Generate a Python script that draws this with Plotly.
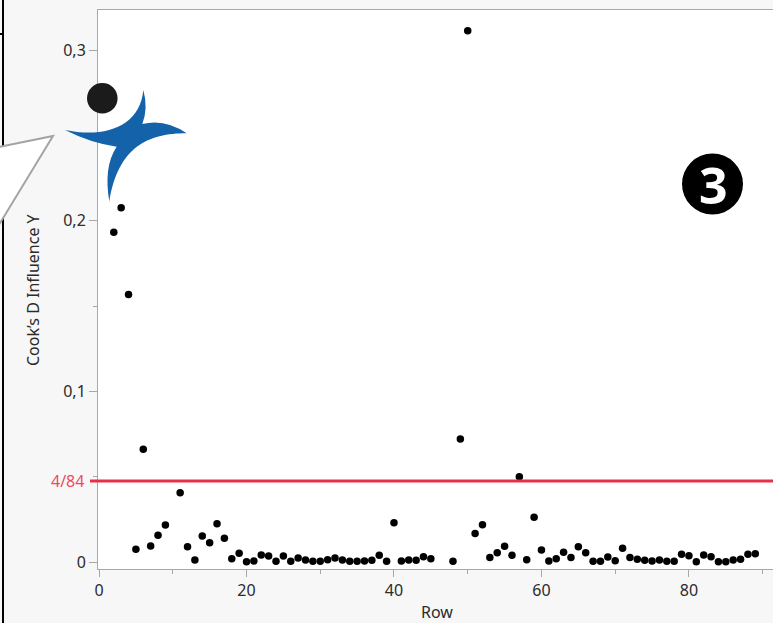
import plotly.graph_objects as go

# ---------------- data ----------------
rows = [2, 3, 4, 5, 6, 7, 8, 9, 11, 12, 13, 14, 15, 16, 17, 18, 19, 20, 21, 22,
        23, 24, 25, 26, 27, 28, 29, 30, 31, 32, 33, 34, 35, 36, 37, 38, 39, 40, 41, 42,
        43, 44, 45, 48, 49, 50, 51, 52, 53, 54, 55, 56, 57, 58, 59, 60, 61, 62, 63, 64,
        65, 66, 67, 68, 69, 70, 71, 72, 73, 74, 75, 76, 77, 78, 79, 80, 81, 82, 83, 84,
        85, 86, 87, 88, 89]
cooks_d = [0.1933, 0.2077, 0.1568, 0.0076, 0.0662, 0.0095, 0.0158, 0.0219, 0.0408, 0.0091,
           0.0013, 0.0154, 0.0115, 0.0226, 0.0141, 0.0021, 0.0053, 0.0004, 0.0008, 0.0043,
           0.0037, 0.0006, 0.0037, 0.0006, 0.0025, 0.0013, 0.0006, 0.0006, 0.0015, 0.0025,
           0.0013, 0.0006, 0.0006, 0.0008, 0.0012, 0.0041, 0.0006, 0.0232, 0.0008, 0.0013,
           0.0012, 0.0033, 0.0021, 0.0006, 0.0722, 0.3114, 0.0169, 0.0220, 0.0029, 0.0056,
           0.0094, 0.0041, 0.0501, 0.0015, 0.0264, 0.0072, 0.0008, 0.0021, 0.0059, 0.0029,
           0.0091, 0.0056, 0.0006, 0.0006, 0.0031, 0.0009, 0.0082, 0.0029, 0.0018, 0.0012,
           0.0008, 0.0013, 0.0006, 0.0006, 0.0047, 0.0039, 0.0004, 0.0043, 0.0033, 0.0004,
           0.0004, 0.0013, 0.0018, 0.0047, 0.0050]
threshold = 4 / 84
threshold_label = "4/84"
x_tickvals = [0, 20, 40, 60, 80]
x_ticktext = ["0", "20", "40", "60", "80"]
y_tickvals = [0, 0.1, 0.2, 0.3]
y_ticktext = ["0", "0,1", "0,2", "0,3"]
x_title = "Row"
y_title = "Cook’s D Influence Y"
badge_text = "3"

# ---------------- layout geometry (pixels) ----------------
FW, FH = 773, 623
L, R, T, B = 98, 0, 10, 54
W = FW - L - R
H = FH - T - B


def px(x):
    return (x - L) / W


def py(y):
    return (T + H - y) / H


def zp(zx, zy):
    # logo sketch coords -> paper coords
    return px(55 + zx / 3), py(80 + zy / 3)


def fmt(p):
    return f"{p[0]:.5f},{p[1]:.5f}"


logo_path = (
    "M " + fmt(zp(30, 150))
    + " C " + fmt(zp(150, 175)) + " " + fmt(zp(255, 140)) + " " + fmt(zp(265, 30))
    + " Q " + fmt(zp(280, 85)) + " " + fmt(zp(262, 132))
    + " Q " + fmt(zp(330, 115)) + " " + fmt(zp(395, 160))
    + " C " + fmt(zp(280, 160)) + " " + fmt(zp(190, 200)) + " " + fmt(zp(163, 365))
    + " Q " + fmt(zp(145, 260)) + " " + fmt(zp(185, 200))
    + " Q " + fmt(zp(110, 190)) + " " + fmt(zp(30, 150))
    + " Z"
)

callout_path = ("M " + fmt((px(-6), py(148))) + " L " + fmt((px(53), py(136)))
                + " L " + fmt((px(-6), py(233))) + " Z")

FONT = "Noto Sans, Open Sans, sans-serif"
FS = 16
TXT = "#2b2b2b"
GRID = "#a8a8a8"

fig = go.Figure()
fig.add_trace(go.Scatter(
    x=rows, y=cooks_d, mode="markers",
    marker=dict(color="black", size=7.5),
    hoverinfo="x+y", showlegend=False,
))

shapes = [
    # threshold line
    dict(type="line", xref="paper", yref="y", x0=px(90), x1=1.0, y0=threshold, y1=threshold,
         line=dict(color="#E5304A", width=3), layer="above"),
    # black vertical frame line at far left
    dict(type="line", xref="paper", yref="paper", x0=px(3), x1=px(3), y0=py(-2), y1=py(FH + 2),
         line=dict(color="black", width=2), layer="above"),
    dict(type="line", xref="paper", yref="paper", x0=px(-2), x1=px(3), y0=py(34), y1=py(34),
         line=dict(color="black", width=2), layer="above"),
    # callout
    dict(type="path", xref="paper", yref="paper", path=callout_path,
         fillcolor="white", line=dict(color="#a3a3a3", width=2), layer="above"),
    # logo
    dict(type="path", xref="paper", yref="paper", path=logo_path,
         fillcolor="#1463AA", line=dict(width=0), layer="above"),
    dict(type="circle", xref="paper", yref="paper",
         x0=px(102.3 - 15.3), x1=px(102.3 + 15.3), y0=py(98.3 + 15.3), y1=py(98.3 - 15.3),
         fillcolor="#1b1b1b", line=dict(width=0), layer="above"),
    # badge circle
    dict(type="circle", xref="paper", yref="paper",
         x0=px(712.5 - 30.5), x1=px(712.5 + 30.5), y0=py(184 + 30.5), y1=py(184 - 30.5),
         fillcolor="black", line=dict(width=0), layer="above"),
]

annotations = [
    dict(text=threshold_label, xref="paper", yref="y", x=px(86), y=threshold,
         xanchor="right", yanchor="middle", showarrow=False,
         font=dict(family=FONT, size=FS, color="#EE4A5E")),
    dict(text=y_title, xref="paper", yref="paper", x=px(33), y=py(290),
         xanchor="center", yanchor="middle", textangle=-90, showarrow=False,
         font=dict(family=FONT, size=FS, color=TXT)),
    dict(text=x_title, xref="paper", yref="paper", x=px(437), y=py(612),
         xanchor="center", yanchor="middle", showarrow=False,
         font=dict(family=FONT, size=FS, color=TXT)),
    dict(text="<b>" + badge_text + "</b>", xref="paper", yref="paper", x=px(713), y=py(185),
         xanchor="center", yanchor="middle", showarrow=False,
         font=dict(family="Open Sans, sans-serif", size=50, color="white")),
]

fig.update_layout(
    width=FW, height=FH,
    margin=dict(l=L, r=R, t=T, b=B, pad=0),
    paper_bgcolor="#f7f7f7", plot_bgcolor="white",
    separators=", ",
    shapes=shapes, annotations=annotations,
    font=dict(family=FONT, size=FS, color=TXT),
    xaxis=dict(
        range=[-0.14, 91.4], tickmode="array", tickvals=x_tickvals, ticktext=x_ticktext,
        showgrid=False, zeroline=False, showline=True, mirror=True, linecolor=GRID, linewidth=1,
        ticks="outside", ticklen=7, tickcolor=GRID, tickwidth=1,
        tickfont=dict(family=FONT, size=FS, color=TXT),
        minor=dict(tickmode="linear", tick0=0, dtick=10, ticks="outside", ticklen=4,
                   tickcolor=GRID, showgrid=False),
    ),
    yaxis=dict(
        range=[-0.0039, 0.3235], tickmode="array", tickvals=y_tickvals, ticktext=y_ticktext,
        showgrid=False, zeroline=False, showline=True, linecolor=GRID, linewidth=1,
        ticks="outside", ticklen=8, tickcolor=GRID, tickwidth=1,
        tickfont=dict(family=FONT, size=FS, color=TXT),
        minor=dict(tickmode="linear", tick0=0, dtick=0.05, ticks="outside", ticklen=4,
                   tickcolor=GRID, showgrid=False),
    ),
)

fig.write_html("out.html", config={"displayModeBar": False})
